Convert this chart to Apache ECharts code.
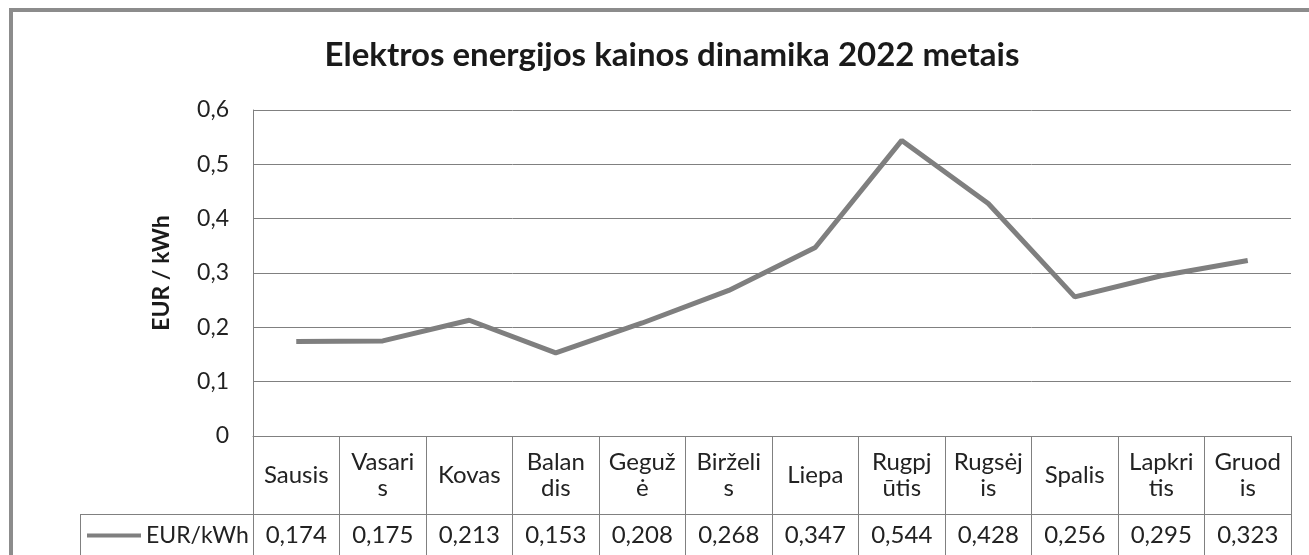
<!DOCTYPE html>
<html>
<head>
<meta charset="utf-8">
<script src="https://cdn.jsdelivr.net/npm/echarts@6/dist/echarts.min.js"></script>
<style>
html,body{margin:0;padding:0;background:#fff;}
#frame{position:absolute;left:9px;top:8px;width:1320px;height:560px;border:4px solid #8c8c8c;box-sizing:border-box;}
#c{position:absolute;left:0;top:0;width:1309px;height:555px;}
</style>
</head>
<body>
<div id="frame"></div>
<div id="c"></div>
<script>
const title = 'Elektros energijos kainos dinamika 2022 metais';
const categories = ['Sausis', 'Vasari\ns', 'Kovas', 'Balan\ndis', 'Geguž\nė', 'Birželi\ns', 'Liepa', 'Rugpj\nūtis', 'Rugsėj\nis', 'Spalis', 'Lapkri\ntis', 'Gruod\nis'];
const seriesName = 'EUR/kWh';
const values = [0.174, 0.175, 0.213, 0.153, 0.208, 0.268, 0.347, 0.544, 0.428, 0.256, 0.295, 0.323];
const yTicks = [0, 0.1, 0.2, 0.3, 0.4, 0.5, 0.6];
const yName = 'EUR / kWh';

const font = 'Lato, Open Sans, sans-serif';
const lineCol = '#7f7f7f';
const chart = echarts.init(document.getElementById('c'));
const fmt = v => String(v).replace('.', ',');

chart.setOption({
  backgroundColor: 'transparent',
  animation: false,
  title: {
    text: title, left: 667, top: 34, textAlign: 'center',
    textStyle: {fontFamily: font, fontSize: 33, fontWeight: 'bold', color: '#1a1a1a'}
  },
  legend: {
    left: 87, top: 524, itemWidth: 54, itemHeight: 4, itemGap: 4, padding: 0,
    icon: 'rect',
    textStyle: {fontFamily: font, fontSize: 23, color: '#222', padding: [0,0,0,0]},
    data: [{name: seriesName, icon: 'rect'}]
  },
  grid: {left: 253, right: 18, top: 110, bottom: 119, containLabel: false},
  xAxis: [{
    type: 'category', data: categories, boundaryGap: true, position: 'bottom',
    axisLine: {show: true, lineStyle: {color: '#808080', width: 1}},
    axisTick: {show: true, inside: false, length: 78, interval: 0, lineStyle: {color: '#808080', width: 1}},
    axisLabel: {interval: 0, margin: 39, verticalAlign: 'middle', lineHeight: 26,
      fontFamily: font, fontSize: 24, color: '#222'}
  }, {
    type: 'category', data: categories, boundaryGap: true, position: 'bottom', offset: 78,
    axisLine: {show: true, lineStyle: {color: '#808080', width: 1}},
    axisTick: {show: true, inside: false, length: 45, interval: 0, lineStyle: {color: '#808080', width: 1}},
    axisLabel: {interval: 0, margin: 21, verticalAlign: 'middle',
      fontFamily: font, fontSize: 24, color: '#222',
      formatter: (v, i) => fmt(values[i])}
  }],
  yAxis: {
    type: 'value', min: 0, max: 0.6, interval: 0.1,
    name: yName, nameLocation: 'middle', nameGap: 80, nameRotate: 90,
    nameTextStyle: {fontFamily: font, fontSize: 23, fontWeight: 'bold', color: '#1a1a1a'},
    axisLine: {show: true, lineStyle: {color: '#808080', width: 1}},
    axisTick: {show: false},
    splitLine: {show: true, lineStyle: {color: '#808080', width: 1}},
    axisLabel: {margin: 24, fontFamily: font, fontSize: 23, color: '#222',
      formatter: v => fmt(+v.toFixed(1))}
  },
  graphic: [
    {type: 'line', shape: {x1: 80, y1: 514.5, x2: 253, y2: 514.5}, style: {stroke: '#808080', lineWidth: 1}},
    {type: 'line', shape: {x1: 80.5, y1: 514, x2: 80.5, y2: 560}, style: {stroke: '#808080', lineWidth: 1}}
  ],
  series: [{
    name: seriesName, type: 'line', data: values, xAxisIndex: 0,
    showSymbol: false, symbol: 'none',
    lineStyle: {color: lineCol, width: 5},
    itemStyle: {color: lineCol}
  }]
});
</script>
</body>
</html>
